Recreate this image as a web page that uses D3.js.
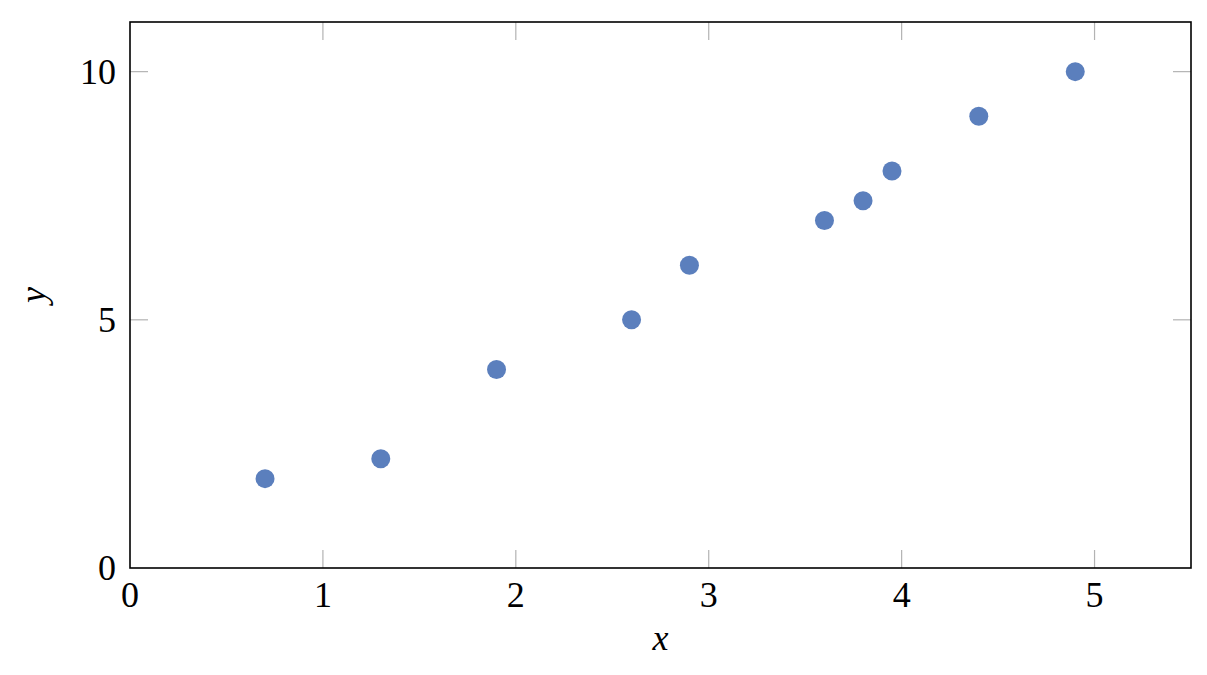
<!DOCTYPE html>
<html>
<head>
<meta charset="utf-8">
<script src="https://cdn.jsdelivr.net/npm/d3@7"></script>
<style>
  body { margin: 0; background: #fff; }
  svg text { font-family: "Liberation Serif", "DejaVu Serif", serif; fill: #000; }
</style>
</head>
<body>
<div id="chart"></div>
<script>
var xValues = [0.7, 1.3, 1.9, 2.6, 2.9, 3.6, 3.8, 3.95, 4.4, 4.9];
var yValues = [1.8, 2.2, 4.0, 5.0, 6.1, 7.0, 7.4, 8.0, 9.1, 10.0];
var xTicks = [0, 1, 2, 3, 4, 5];
var yTicks = [0, 5, 10];

var width = 1207, height = 675;
var margin = { top: 22, right: 16, bottom: 107, left: 130 };
var innerW = width - margin.left - margin.right,
  innerH = height - margin.top - margin.bottom;

var x = d3.scaleLinear().domain([0, 5.5]).range([0, innerW]);
var y = d3.scaleLinear().domain([0, 11]).range([innerH, 0]);

var svg = d3.select("#chart")
  .append("svg")
  .attr("width", width)
  .attr("height", height);

var g = svg.append("g")
  .attr("transform", "translate(" + margin.left + "," + margin.top + ")");

var tickLen = 18;
var tickColor = "#b3b3b3";

// inner tick marks, bottom and top
g.append("g").selectAll("line.xb")
  .data(xTicks.filter(d => d > 0))
  .enter().append("line")
  .attr("x1", d => x(d)).attr("x2", d => x(d))
  .attr("y1", innerH).attr("y2", innerH - tickLen)
  .style("stroke", tickColor).style("stroke-width", 1.2);

g.append("g").selectAll("line.xt")
  .data(xTicks.filter(d => d > 0))
  .enter().append("line")
  .attr("x1", d => x(d)).attr("x2", d => x(d))
  .attr("y1", 0).attr("y2", tickLen)
  .style("stroke", tickColor).style("stroke-width", 1.2);

// inner tick marks, left and right
g.append("g").selectAll("line.yl")
  .data(yTicks.filter(d => d > 0))
  .enter().append("line")
  .attr("x1", 0).attr("x2", tickLen)
  .attr("y1", d => y(d)).attr("y2", d => y(d))
  .style("stroke", tickColor).style("stroke-width", 1.2);

g.append("g").selectAll("line.yr")
  .data(yTicks.filter(d => d > 0))
  .enter().append("line")
  .attr("x1", innerW).attr("x2", innerW - tickLen)
  .attr("y1", d => y(d)).attr("y2", d => y(d))
  .style("stroke", tickColor).style("stroke-width", 1.2);

// tick labels
g.append("g").selectAll("text")
  .data(xTicks)
  .enter().append("text")
  .attr("x", d => x(d))
  .attr("y", innerH + 39)
  .style("text-anchor", "middle")
  .style("font-size", "36px")
  .text(d => d);

g.append("g").selectAll("text")
  .data(yTicks)
  .enter().append("text")
  .attr("x", -14)
  .attr("y", d => y(d) + 12)
  .style("text-anchor", "end")
  .style("font-size", "36px")
  .text(d => d);

// points
var pts = xValues.map((d, i) => ({ x: d, y: yValues[i] }));
g.append("g")
  .selectAll("circle")
  .data(pts)
  .enter().append("circle")
  .attr("cx", d => x(d.x))
  .attr("cy", d => y(d.y))
  .attr("r", 9.5)
  .style("fill", "#5b7fbd");

// frame
g.append("rect")
  .attr("x", 0).attr("y", 0)
  .attr("width", innerW).attr("height", innerH)
  .style("fill", "none")
  .style("stroke", "#000")
  .style("stroke-width", 1.6);

// axis labels
svg.append("text")
  .attr("x", margin.left + x(2.75))
  .attr("y", 650)
  .style("text-anchor", "middle")
  .style("font-size", "36px")
  .style("font-style", "italic")
  .text("x");

svg.append("text")
  .attr("transform", "translate(45," + (margin.top + y(5.5)) + ") rotate(-90)")
  .style("text-anchor", "middle")
  .style("font-size", "36px")
  .style("font-style", "italic")
  .text("y");
</script>
</body>
</html>
